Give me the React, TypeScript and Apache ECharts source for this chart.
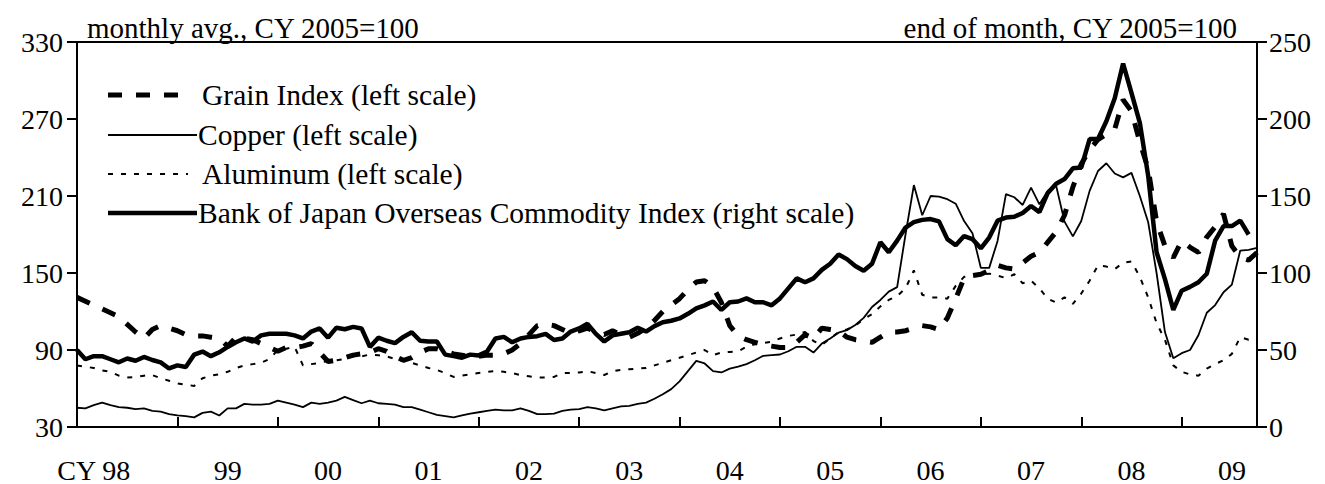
import React, { useEffect, useRef } from "react";
import * as echarts from "echarts";

const START_YEAR = 1998;
const MONTH_COUNT = 142; // Jan 1998 - Oct 2009
const yearLabels = ["CY 98", "99", "00", "01", "02", "03", "04", "05", "06", "07", "08", "09"];

const grain = [
  131, 128, 125, 122, 119, 116, 110, 104, 99, 106, 109, 107,
  105, 102, 101, 101, 100, 99, 93, 100, 99, 98, 95, 92,
  89, 92, 92, 93, 95, 88, 81, 82, 84, 86, 87, 88,
  91, 89, 85, 82, 84, 88, 91, 91, 89, 87, 86, 85,
  85, 86, 86, 87, 90, 95, 102, 109, 110, 109, 106, 103,
  105, 107, 104, 102, 105, 102, 100, 103, 107, 113, 120, 125,
  130, 137, 143, 144, 139, 127, 109, 101, 98, 96, 94, 93,
  92, 92, 96, 102, 99, 107, 106, 105, 100, 98, 97, 96,
  100, 104, 104, 105, 107, 109, 108, 106, 115, 130, 146, 148,
  149, 152, 156, 154, 153, 158, 163, 166, 174, 182, 195, 217,
  235, 246, 254, 258, 262, 285, 276, 252, 231, 190, 171, 162,
  175, 170, 166, 178, 186, 196, 171, 162, 160, 166,
];

const copper = [
  45, 44.5, 47, 49, 47, 45.5, 45, 44, 44.5, 42.5, 42, 40,
  39, 38.5, 37.5, 41, 42, 39, 44.5, 44.5, 48, 47.5, 47.5, 48,
  50.5, 49, 47.5, 45.5, 49, 48, 49, 50.5, 53.5, 51, 48.5, 50.5,
  48.5, 48, 47.5, 45.5, 45.5, 43.5, 41.5, 39.5, 38.5, 37.5, 39, 40.5,
  41.5, 42.5, 43.5, 43, 43, 44.5, 42.5, 40, 40, 40.5, 42.5, 43.5,
  44, 45.5, 44.5, 43, 44.5, 46, 46.5, 48, 49, 52, 55.5, 59.5,
  65.5, 73.5, 81.5, 79.5, 73.5, 72.5, 75.5, 77, 79, 82, 85.5, 86,
  86.5, 89, 92.5, 92.5, 88, 95, 99, 103.5, 105.5, 109.5, 115, 123.5,
  129, 135.5, 139, 180, 218.5, 195, 210, 209.5, 207.5, 204, 190.5, 181,
  154, 154, 175, 211.5, 209, 203, 216.5, 203.5, 214, 218, 190, 178.5,
  190.5, 214, 229.5, 235.5, 227.5, 224.5, 228, 210, 189.5, 150, 104, 83.5,
  87.5, 90, 101.5, 119, 125, 135, 141, 167.5, 168, 169.5,
];

const aluminum = [
  78, 77, 76, 74, 73, 70, 68.5, 69, 70, 70.5, 68, 66,
  64, 63, 62, 68, 70, 71, 73, 76, 78, 79, 80, 83,
  90, 91, 92.5, 78, 79, 80, 81.5, 82, 83, 85, 85, 86.5,
  86, 85, 83, 81.5, 80, 78, 76, 74.5, 72, 69, 70, 71,
  72, 73, 73.5, 73, 72, 70.5, 69.5, 68.5, 68.5, 69, 72, 72,
  72.5, 73.5, 72, 70.5, 73.5, 74.5, 75, 75.5, 76, 78, 80, 82,
  84, 86, 88, 90, 86, 88, 88.5, 89, 92.5, 94.5, 95.5, 96.5,
  99, 101, 102, 104, 97, 94, 99, 104, 106, 109, 114, 118,
  124, 129, 132, 138, 152, 133, 131, 131, 130, 140, 147, 148,
  149, 149.5, 148, 146, 149, 142, 144, 138, 130, 127, 131, 126,
  134, 144, 156, 155, 153, 158, 159, 147, 131, 111, 98, 78,
  73, 71, 70, 75.5, 79, 82, 87, 100, 98, 99,
];

const bojIndex = [
  50, 44, 46, 46, 44, 42, 44.5, 43, 45.5, 43.5, 42, 38,
  40, 39, 47, 49, 46, 48.5, 52, 55, 57.5, 55.5, 59.5, 60.5,
  60.5, 60.5, 59.5, 57.5, 62, 64, 58, 64.5, 63.5, 65, 64, 52,
  58, 56, 54.5, 58.5, 61.5, 56, 55.5, 55.5, 47, 46, 45, 47,
  46.5, 49, 57.5, 58.5, 55, 57.5, 58.5, 59, 60.5, 56.5, 57.5, 62,
  64, 67, 60.5, 55.5, 59.5, 60.5, 61.5, 64.5, 62, 65.5, 68, 69,
  70.5, 73.5, 77, 79, 81.5, 76, 81, 81.5, 83.5, 81, 81, 79,
  83.5, 90, 96.5, 94, 96.5, 102, 106, 112, 109, 104.5, 101.5, 106,
  120, 113.5, 121, 129.5, 133, 134.5, 135, 133.5, 122, 118, 124, 122,
  116, 123, 134, 136, 136.5, 139, 143.5, 139.5, 152, 158, 161, 168,
  168.5, 187, 187, 198.5, 213.5, 236, 217, 197.5, 163, 113.5, 96, 76,
  88.5, 91, 94, 99.5, 121, 130.5, 130.5, 134, 125,
];

const seriesNames = [
  "Grain Index (left scale)",
  "Copper (left scale)",
  "Aluminum (left scale)",
  "Bank of Japan Overseas Commodity Index (right scale)",
];

const leftAxisName = "monthly avg., CY 2005=100";
const rightAxisName = "end of month, CY 2005=100";

const FONT = "'Liberation Serif', 'Times New Roman', serif";

// line styles per series (shared by plot and legend samples)
const lineStyles = [
  { width: 5, dash: [14, 14] as number[] | null },
  { width: 1.8, dash: null },
  { width: 2, dash: [5, 8] as number[] | null },
  { width: 4.5, dash: null },
];

export default function App() {
  const ref = useRef<HTMLDivElement>(null);
  useEffect(() => {
    if (!ref.current) return;
    const chart = echarts.init(ref.current, null, { renderer: "svg" });
    const categories: string[] = [];
    for (let i = 0; i < MONTH_COUNT; i++) {
      categories.push(`${START_YEAR + Math.floor(i / 12)}-${String((i % 12) + 1).padStart(2, "0")}`);
    }
    const txt = { fontFamily: FONT, fontSize: 28, color: "#000" };
    const axisLine = { show: true, lineStyle: { color: "#000", width: 2 } };

    // custom legend (line sample + label), laid out like the original
    const legendRows = [
      { y: 95, lineEnd: 180, textX: 202 },
      { y: 135, lineEnd: 197, textX: 198 },
      { y: 174, lineEnd: 188, textX: 202 },
      { y: 213, lineEnd: 197, textX: 198 },
    ];
    const legendGraphics: any[] = [];
    legendRows.forEach((r, k) => {
      const ls = lineStyles[k];
      legendGraphics.push({
        type: "line",
        shape: { x1: 108, y1: r.y, x2: r.lineEnd, y2: r.y },
        style: { stroke: "#000", lineWidth: ls.width, lineDash: ls.dash || undefined },
        silent: true,
      });
      legendGraphics.push({
        type: "text",
        x: r.textX,
        y: r.y,
        style: {
          text: seriesNames[k],
          fontFamily: FONT,
          fontSize: 29.5,
          fill: "#000",
          verticalAlign: "middle",
          align: "left",
        },
        silent: true,
      });
    });

    const mkSeries = (k: number, data: number[], yAxisIndex: number, z: number) => ({
      name: seriesNames[k],
      type: "line",
      yAxisIndex,
      data,
      symbol: "none",
      lineStyle: {
        color: "#000",
        width: lineStyles[k].width,
        type: lineStyles[k].dash ? lineStyles[k].dash : "solid",
      },
      itemStyle: { color: "#000" },
      z,
    });

    chart.setOption({
      animation: false,
      backgroundColor: "#fff",
      textStyle: { fontFamily: FONT },
      grid: {
        left: 77,
        right: 68,
        top: 42,
        bottom: 55,
        show: true,
        borderColor: "#000",
        borderWidth: 2,
        backgroundColor: "transparent",
      },
      graphic: legendGraphics,
      xAxis: {
        type: "category",
        data: categories,
        boundaryGap: false,
        axisLine,
        axisTick: {
          show: true,
          inside: true,
          length: 10,
          interval: (i: number) => i % 12 === 0 && i > 0,
          lineStyle: { color: "#000", width: 2 },
        },
        axisLabel: {
          ...txt,
          margin: 29,
          interval: (i: number) => i === 2 || (i % 12 === 6 && i >= 18),
          formatter: (_v: string, i: number) => (i === 2 ? yearLabels[0] : yearLabels[Math.floor(i / 12)]),
        },
        splitLine: { show: false },
      },
      yAxis: [
        {
          type: "value",
          min: 30,
          max: 330,
          interval: 60,
          position: "left",
          axisLine,
          axisTick: { show: true, length: 10, lineStyle: { color: "#000", width: 2 } },
          axisLabel: { ...txt, margin: 14 },
          splitLine: { show: false },
          name: leftAxisName,
          nameLocation: "end",
          nameGap: 0,
          nameTextStyle: { ...txt, fontSize: 29, align: "left", padding: [0, 0, 0, 10] },
        },
        {
          type: "value",
          min: 0,
          max: 250,
          interval: 50,
          position: "right",
          axisLine,
          axisTick: { show: true, length: 10, lineStyle: { color: "#000", width: 2 } },
          axisLabel: { ...txt, margin: 12 },
          splitLine: { show: false },
          name: rightAxisName,
          nameLocation: "end",
          nameGap: 0,
          nameTextStyle: { ...txt, fontSize: 29, align: "right", padding: [0, 20, 0, 0] },
        },
      ],
      series: [
        mkSeries(0, grain, 0, 3),
        mkSeries(1, copper, 0, 2),
        mkSeries(2, aluminum, 0, 2),
        mkSeries(3, bojIndex, 1, 4),
      ],
    });
    return () => chart.dispose();
  }, []);
  return (
    <div
      ref={ref}
      style={{ position: "absolute", left: 0, top: 0, width: 1325, height: 484, background: "#fff" }}
    />
  );
}
